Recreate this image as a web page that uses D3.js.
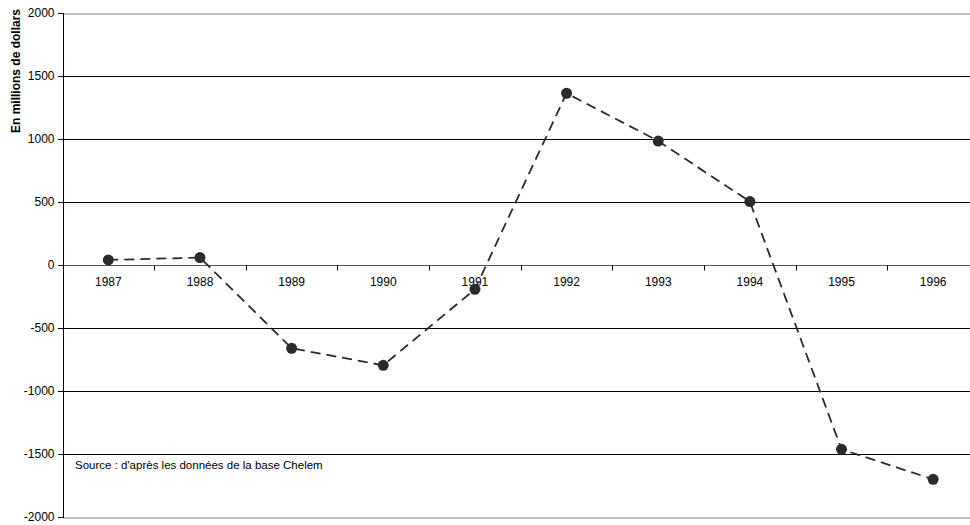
<!DOCTYPE html>
<html><head><meta charset="utf-8">
<script src="https://cdn.jsdelivr.net/npm/d3@7"></script>
<style>body{margin:0;background:#fff}svg{display:block}text{font-family:"Liberation Sans",Arial,sans-serif}</style>
</head><body>
<svg id="c" width="970" height="525"></svg>
<script>
const years = ["1987","1988","1989","1990","1991","1992","1993","1994","1995","1996"];
const values = [40, 59, -661, -796, -193, 1363, 984, 503, -1463, -1701];
const yTicks = [2000,1500,1000,500,0,-500,-1000,-1500,-2000];
const yTitle = "En millions de dollars";
const sourceNote = "Source : d'après les données de la base Chelem";

(function(){
const svg = d3.select("#c");
const pL = 62.5, pR = 979, pT = 13, pB = 517;
const x = d3.scaleBand().domain(years).range([pL, pR]).padding(0);
const y = d3.scaleLinear().domain([-2000, 2000]).range([pB, pT]);
const yr = d => Math.round(y(d)) + 0.5;
const fmt = d => String(d);

// gridlines
svg.append("g").selectAll("line").data(yTicks).join("line")
  .attr("x1", pL).attr("x2", pR)
  .attr("y1", d => yr(d)).attr("y2", d => yr(d))
  .attr("stroke", d => (d === 2000 || d === -2000) ? "#c0c0c0" : (d === 0 ? "#555" : "#000"))
  .attr("stroke-width", d => (d === 2000 || d === -2000) ? 2 : 1)
  .attr("shape-rendering", "crispEdges");

// y axis
const ya = svg.append("g").attr("transform", `translate(${pL},0)`)
  .call(d3.axisLeft(y).tickValues(yTicks).tickSize(5).tickFormat(fmt));
ya.select(".domain").attr("stroke", "#000").attr("shape-rendering", "crispEdges");
ya.selectAll(".tick").attr("transform", d => `translate(0,${yr(d)})`);
ya.selectAll(".tick line").attr("stroke", "#000").attr("shape-rendering", "crispEdges");
ya.selectAll("text").attr("font-size", 12).attr("fill", "#000").attr("x", -8).attr("font-family", "Liberation Sans, Arial, sans-serif");

// x axis at zero
const xa = svg.append("g").attr("transform", `translate(0,${yr(0)})`)
  .call(d3.axisBottom(x).tickSize(0).tickPadding(12));
xa.select(".domain").remove();
xa.selectAll("text").attr("font-size", 12).attr("fill", "#000").attr("font-family", "Liberation Sans, Arial, sans-serif");
svg.append("g").selectAll("line").data(years.slice(1)).join("line")
  .attr("x1", d => Math.round(x(d)) + 0.5).attr("x2", d => Math.round(x(d)) + 0.5)
  .attr("y1", yr(0)).attr("y2", yr(0) + 5)
  .attr("stroke", "#000");

// line
const cx = d => x(d) + x.bandwidth() / 2;
const line = d3.line().x((d, i) => cx(years[i])).y(d => y(d));
svg.append("path").datum(values).attr("d", line)
  .attr("fill", "none").attr("stroke", "#2b2b2b").attr("stroke-width", 1.8)
  .attr("stroke-dasharray", "10,6");
svg.append("g").selectAll("circle").data(values).join("circle")
  .attr("cx", (d, i) => cx(years[i])).attr("cy", d => y(d)).attr("r", 5.5)
  .attr("fill", "#2b2b2b");

svg.append("text").attr("transform", `translate(20,${pT + 58}) rotate(-90)`)
  .attr("text-anchor", "middle").attr("font-size", 12).attr("font-weight", "bold")
  .text(yTitle);

svg.append("text").attr("x", 75).attr("y", 469).attr("font-size", 11.5).text(sourceNote);
})();
</script>
</body></html>
